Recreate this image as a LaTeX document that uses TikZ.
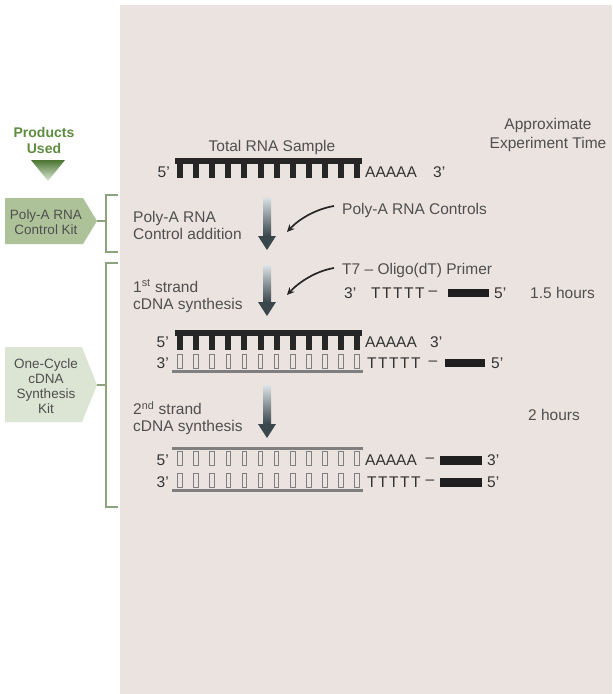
\documentclass[tikz,border=0pt]{standalone}
\usepackage{fontspec}
\setmainfont{Liberation Sans}
\usetikzlibrary{arrows.meta}
\definecolor{panel}{HTML}{EBE3E0}
\definecolor{txt}{HTML}{4F4F4F}
\definecolor{grn}{HTML}{5E8C3F}
\definecolor{grndark}{HTML}{4A7631}
\definecolor{kitA}{HTML}{AEC29A}
\definecolor{kitB}{HTML}{DCE4D3}
\definecolor{brk}{HTML}{8FA27E}
\definecolor{cdna}{HTML}{7F7F7F}
\definecolor{arrdark}{HTML}{39464C}
\definecolor{arrlight}{HTML}{DDE3E6}
\newcommand{\fiveT}{T\kern1.5pt T\kern1.5pt T\kern1.5pt T\kern1.5pt T}
\begin{document}
\begin{tikzpicture}[x=1pt,y=-1pt,
  lbl/.style={inner sep=0pt,text=txt,font=\fontsize{15.5}{17}\selectfont},
  seq/.style={inner sep=0pt,text=black!80,font=\fontsize{15.5}{17}\selectfont},
  kittxt/.style={inner sep=0pt,text=txt,align=center,font=\fontsize{13.5}{15}\selectfont},
  bracket/.style={draw=brk,line width=1.3pt},
  rnabar/.style={fill=black!85},
  cdnabar/.style={fill=cdna},
  opentooth/.style={draw=cdna,line width=0.9pt},
  blockbar/.style={fill=black!88},
  curvarrow/.style={draw=black!85,line width=1.7pt,-{Stealth[length=7.5pt,width=7pt]}}
]
\useasboundingbox (0,0) rectangle (613,694);
% panel
\fill[panel] (120,5) rectangle (612,694);

% products used
\node[inner sep=0pt,text=grn,align=center,font=\bfseries\fontsize{14}{16}\selectfont] (prod) at (44,140) {Products\\Used};
\shade[top color=grndark, bottom color=grn!20] (31,160) -- (65,160) -- (48,181) -- cycle;

% kit boxes
\fill[kitA] (5,198) -- (83,198) -- (97,221) -- (83,244) -- (5,244) -- cycle;
\coordinate (kitAtip) at (97,221);
\node[kittxt] (kitAtxt) at (46,222) {Poly-A RNA\\Control Kit};
\fill[kitB] (5,347) -- (82,347) -- (97,385) -- (82,422) -- (5,422) -- cycle;
\coordinate (kitBtip) at (97,385);
\node[kittxt] (kitBtxt) at (46,386) {One-Cycle\\cDNA\\Synthesis\\Kit};

% brackets
\draw[bracket] (118,195) -- (106,195) -- (106,252) -- (118,252);
\coordinate (brA) at (106,221);
\draw[bracket] (kitAtip) -- (brA);
\draw[bracket] (118,263) -- (106,263) -- (106,507) -- (118,507);
\coordinate (brB) at (106,385);
\draw[bracket] (kitBtip) -- (brB);

% header texts
\node[lbl] (total) at (272,147) {Total RNA Sample};
\node[lbl,align=center,font=\fontsize{15.5}{19.5}\selectfont] (time) at (548,135) {Approximate\\Experiment Time};

% step labels
\node[lbl,anchor=west,align=left] (step1) at (133,225.5) {Poly-A RNA\\Control addition};
\node[lbl,anchor=west,align=left] (step2) at (133,296) {1\textsuperscript{st} strand\\cDNA synthesis};
\node[lbl,anchor=west,align=left] (step3) at (133,418.5) {2\textsuperscript{nd} strand\\cDNA synthesis};

% gradient arrows
\foreach \t/\h/\e in {197/236/250, 265/302/316, 385/424/438}{
  \shade[top color=arrlight, bottom color=arrdark] (263,\t) rectangle (271,\h);
  \fill[arrdark] (258,\h) -- (276,\h) -- (267,\e) -- cycle;
}

% Strand A : total RNA
\fill[rnabar] (175,158) rectangle (362,163.5);
\foreach \k in {0,...,11}{
  \pgfmathsetmacro{\xx}{180+16.1*\k}
  \fill[rnabar] (\xx-3,162) rectangle (\xx+3,177.5);
}
\node[seq,anchor=east] (a5) at (170,172) {5'};
\node[seq,anchor=west] (aA) at (365,172) {AAAAA};
\node[seq,anchor=west] (a3) at (433,172) {3'};

% reagents
\node[lbl,anchor=west] (ctrl) at (342,210) {Poly-A RNA Controls};
\coordinate (c1s) at (334,206);
\coordinate (c1e) at (287,232);
\draw[curvarrow] (c1s) .. controls (316,209) and (299,219) .. (c1e);

\node[lbl,anchor=west] (primer) at (342,270) {T7 -- Oligo(dT) Primer};
\coordinate (c2s) at (334,268);
\coordinate (c2e) at (287,295);
\draw[curvarrow] (c2s) .. controls (316,271) and (299,282) .. (c2e);

\node[seq,anchor=west] (p3) at (344,293) {3'};
\node[seq,anchor=west] (pT) at (371,293) {\fiveT};
\node[seq] (pd) at (433,293) {--};
\fill[blockbar] (448,289) rectangle (489,297);
\node[seq,anchor=west] (p5) at (494,293) {5'};
\node[lbl,anchor=west] (t15) at (530,293) {1.5 hours};

% Double strand 1
\fill[rnabar] (175,330) rectangle (362,335.5);
\foreach \k in {0,...,11}{
  \pgfmathsetmacro{\xx}{180+16.1*\k}
  \fill[rnabar] (\xx-3,334) rectangle (\xx+3,350);
  \draw[opentooth] (\xx-2.3,354) rectangle (\xx+2.3,368);
}
\fill[cdnabar] (172,369.5) rectangle (363,372.5);
\node[seq,anchor=east] (d15) at (169,342) {5'};
\node[seq,anchor=east] (d13) at (169,363) {3'};
\node[seq,anchor=west] (d1A) at (365,342) {AAAAA};
\node[seq,anchor=west] (d13r) at (430,342) {3'};
\node[seq,anchor=west] (d1T) at (367,363) {\fiveT};
\node[seq] (d1d) at (433,363) {--};
\fill[blockbar] (445,359) rectangle (485,367);
\node[seq,anchor=west] (d15r) at (491,363) {5'};

\node[lbl,anchor=west] (t2) at (528,415) {2 hours};

% Double strand 2
\fill[cdnabar] (172,446.5) rectangle (363,449.5);
\foreach \k in {0,...,11}{
  \pgfmathsetmacro{\xx}{180+16.1*\k}
  \draw[opentooth] (\xx-2.3,451) rectangle (\xx+2.3,465);
  \draw[opentooth] (\xx-2.3,473) rectangle (\xx+2.3,487);
}
\fill[cdnabar] (172,488.5) rectangle (363,491.5);
\node[seq,anchor=east] (d25) at (169,460) {5'};
\node[seq,anchor=east] (d23) at (169,482) {3'};
\node[seq,anchor=west] (d2A) at (365,460) {AAAAA};
\node[seq] (d2d1) at (430,460) {--};
\fill[blockbar] (440,455.5) rectangle (482,464.5);
\node[seq,anchor=west] (d23r) at (487,460) {3'};
\node[seq,anchor=west] (d2T) at (367,482) {\fiveT};
\node[seq] (d2d2) at (430,482) {--};
\fill[blockbar] (440,477.5) rectangle (482,486.5);
\node[seq,anchor=west] (d25r) at (487,482) {5'};
\end{tikzpicture}
\end{document}
